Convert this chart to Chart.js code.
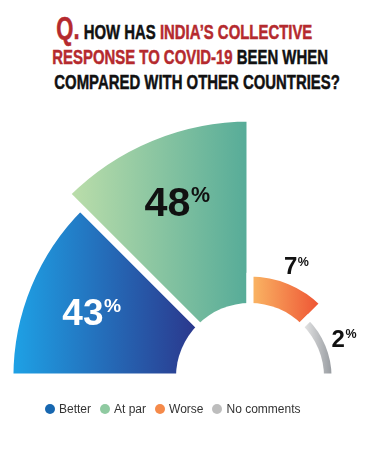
<!DOCTYPE html>
<html>
<head>
<meta charset="utf-8">
<script src="https://cdn.jsdelivr.net/npm/chart.js@4.4.0/dist/chart.umd.min.js"></script>
<style>
html,body{margin:0;padding:0;width:377px;height:449px;overflow:hidden;background:#fff;}
body{position:relative;}
#title{position:absolute;left:-4px;top:0;width:377px;height:100px;font-family:"Liberation Sans Narrow","Liberation Sans",sans-serif;font-weight:bold;font-size:21px;color:#111;}
#title .line{position:absolute;left:0;width:100%;text-align:center;white-space:nowrap;line-height:20px;}
#title .inner{display:inline-block;transform:scaleX(0.71);-webkit-text-stroke:0.5px currentColor;}
#title .red{color:#b52a2e;}
#title .q{font-size:31px;line-height:0;}
#wrap{position:absolute;left:-9px;top:118px;width:518px;height:518px;}
#legend{position:absolute;left:45px;top:402px;display:flex;align-items:center;font-family:"Liberation Sans",Arial,sans-serif;font-size:12px;color:#333;line-height:14px;}
#legend .li{display:flex;align-items:center;margin-right:9px;}
#legend .dot{width:10px;height:10px;border-radius:50%;margin-right:4px;}
</style>
</head>
<body>
<div id="title">
  <div class="line" style="top:22px"><span class="inner"><span class="red q">Q.</span> HOW HAS <span class="red">INDIA’S COLLECTIVE</span></span></div>
  <div class="line" style="top:46.5px"><span class="inner"><span class="red">RESPONSE TO COVID-19</span> BEEN WHEN</span></div>
  <div class="line" style="top:71.5px"><span class="inner">COMPARED WITH OTHER COUNTRIES?</span></div>
</div>
<div id="wrap"><canvas id="c"></canvas></div>
<div id="legend"></div>
<script>
// ---- data ----
const categories = ['Better', 'At par', 'Worse', 'No comments'];
const shares = [43, 48, 7, 2];
const gradientColors = [
  ['#1ea1e5', '#2b378c'],
  ['#bcdeaa', '#55ab98'],
  ['#fab865', '#ee5233'],
  ['#e8e8e8', '#989ca1']
];
const legendColors = ['#1767b0', '#8fcaa1', '#f58a4a', '#bdbdbd'];
const labelColors = ['#ffffff', '#111111', '#111111', '#111111'];

// ---- layout constants ----
const SWEEP = 45;        // degrees per segment
const BORDER = 7;        // white gap between segments
const SCALE_MIN = -20.5; // value 0 sits at the edge of the centre hole
const SCALE_MAX = 48;

function segmentGradient(c) {
  const i = c.dataIndex || 0;
  const chart = c.chart;
  const s = chart.scales && chart.scales.r;
  if (!s || !chart.chartArea || s.xCenter === undefined) return gradientColors[i][0];
  const cx = s.xCenter;
  const a0 = s.getIndexAngle(0) - Math.PI / 2 + i * SWEEP * Math.PI / 180;
  const a1 = a0 + SWEEP * Math.PI / 180;
  const rIn = s.getDistanceFromCenterForValue(0) - BORDER / 2;
  const rOut = s.getDistanceFromCenterForValue(shares[i]) - BORDER / 2;
  const xs = [];
  [rIn, rOut].forEach(r => [a0, a1].forEach(a => xs.push(cx + r * Math.cos(a))));
  const x0 = Math.min(...xs), x1 = Math.max(...xs);
  const g = chart.ctx.createLinearGradient(x0, 0, x1, 0);
  g.addColorStop(0, gradientColors[i][0]);
  g.addColorStop(1, gradientColors[i][1]);
  return g;
}

const holeAndLabels = {
  id: 'holeAndLabels',
  afterDatasetsDraw(chart) {
    const s = chart.scales.r;
    const ctx = chart.ctx;
    const holeR = s.getDistanceFromCenterForValue(0) - BORDER / 2;
    ctx.save();
    ctx.fillStyle = '#ffffff';
    ctx.beginPath();
    ctx.arc(s.xCenter, s.yCenter, holeR, 0, Math.PI * 2);
    ctx.fill();
    const meta = chart.getDatasetMeta(0);
    meta.data.forEach((arc, i) => {
      const v = shares[i];
      const mid = (arc.startAngle + arc.endAngle) / 2;
      const outer = arc.outerRadius - BORDER / 2;
      const big = v >= 20;
      const r = big ? outer - 65 : outer + 20;
      const size = big ? v * 0.86 : 24;
      const psize = size * 0.52;
      const px = arc.x + r * Math.cos(mid);
      const py = arc.y + r * Math.sin(mid);
      const numTxt = String(v);
      ctx.font = 'bold ' + size + 'px "Liberation Sans", Arial, sans-serif';
      const nw = ctx.measureText(numTxt).width;
      ctx.font = 'bold ' + psize + 'px "Liberation Sans", Arial, sans-serif';
      const pw = ctx.measureText('%').width;
      const x0 = px - (nw + pw) / 2;
      ctx.fillStyle = labelColors[i];
      ctx.textAlign = 'left';
      ctx.textBaseline = 'alphabetic';
      ctx.font = 'bold ' + size + 'px "Liberation Sans", Arial, sans-serif';
      ctx.fillText(numTxt, x0, py + 0.36 * size);
      ctx.font = 'bold ' + psize + 'px "Liberation Sans", Arial, sans-serif';
      ctx.fillText('%', x0 + nw + 0.5, py - 0.36 * size + 0.72 * psize);
    });
    ctx.restore();
  }
};

new Chart(document.getElementById('c'), {
  type: 'polarArea',
  data: {
    labels: categories,
    datasets: [{
      data: shares,
      angle: SWEEP,
      backgroundColor: segmentGradient,
      borderColor: '#ffffff',
      borderWidth: BORDER,
      clip: false
    }]
  },
  options: {
    responsive: true,
    maintainAspectRatio: false,
    animation: false,
    events: [],
    layout: { padding: 0, autoPadding: false },
    plugins: { legend: { display: false }, tooltip: { enabled: false }, title: { display: false } },
    scales: {
      r: {
        min: SCALE_MIN,
        max: SCALE_MAX,
        startAngle: -90,
        ticks: { display: false },
        grid: { display: false },
        angleLines: { display: false },
        pointLabels: { display: false }
      }
    }
  },
  plugins: [holeAndLabels]
});

// HTML legend built from the same arrays
const lg = document.getElementById('legend');
categories.forEach((name, i) => {
  const item = document.createElement('div');
  item.className = 'li';
  const dot = document.createElement('span');
  dot.className = 'dot';
  dot.style.background = legendColors[i];
  const t = document.createElement('span');
  t.textContent = name;
  item.appendChild(dot);
  item.appendChild(t);
  lg.appendChild(item);
});
</script>
</body>
</html>
